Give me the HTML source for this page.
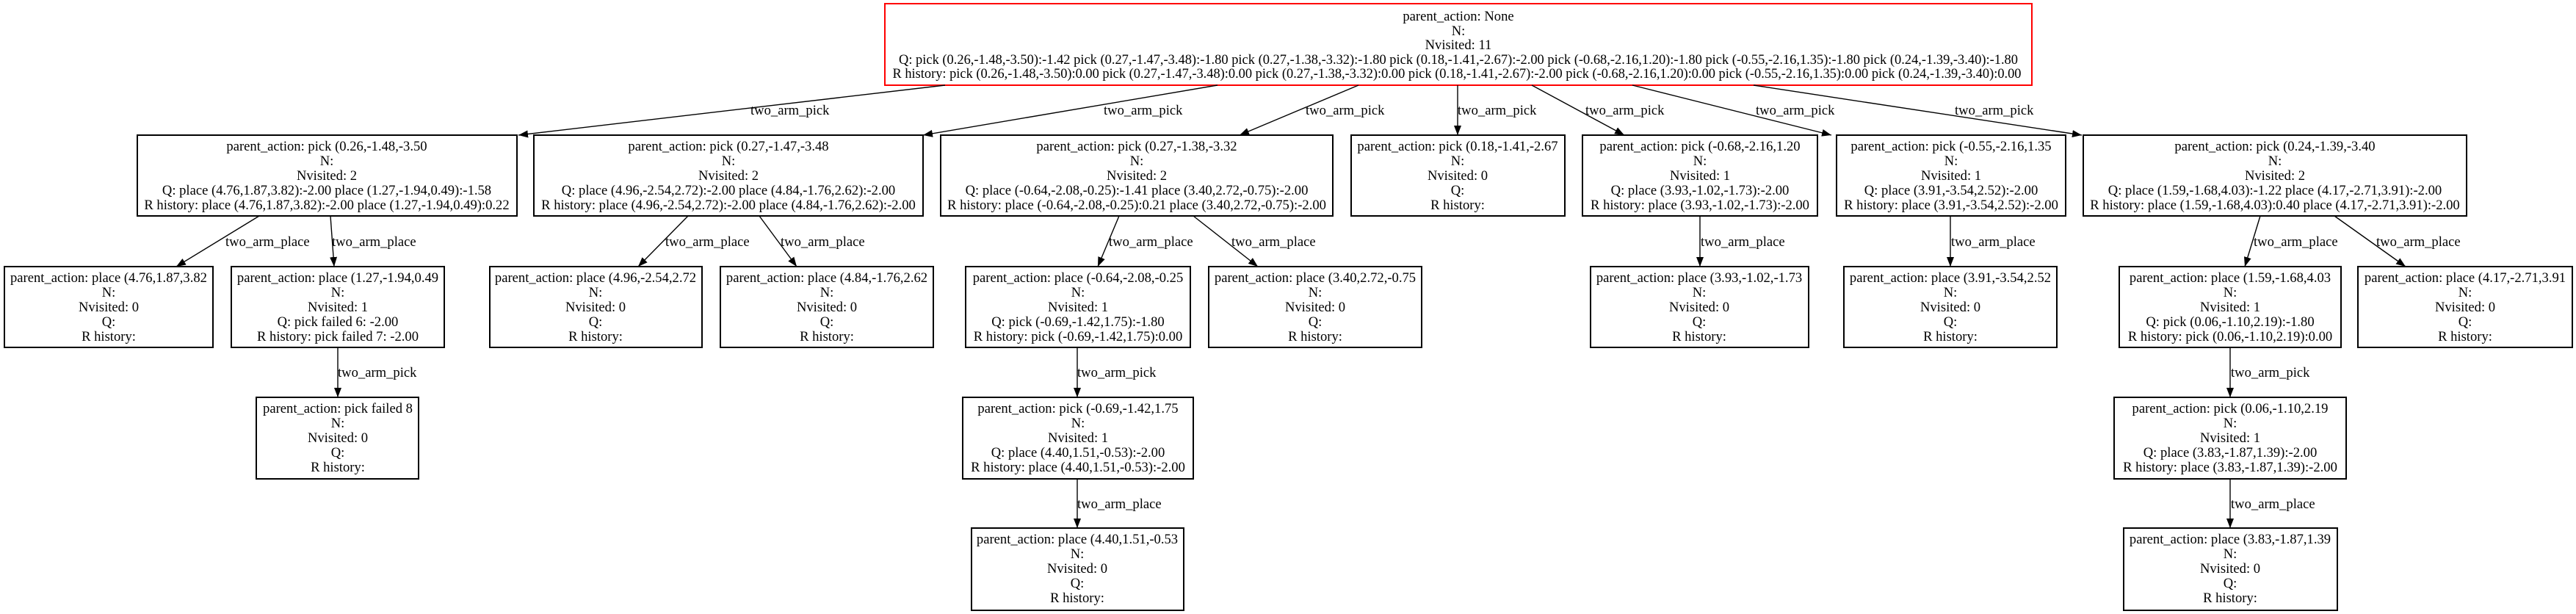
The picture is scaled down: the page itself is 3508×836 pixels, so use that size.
<!DOCTYPE html>
<html><head><meta charset="utf-8"><style>
html,body{margin:0;padding:0;background:#fff;}
svg{display:block;}
text{font-family:"Liberation Serif",serif;font-size:18.6px;fill:#000;}
.c{text-anchor:middle;}
rect{fill:#fff;stroke:#000;stroke-width:2;}
line{stroke:#000;stroke-width:1.4;}
</style></head><body>
<svg width="3508" height="836" viewBox="0 0 3508 836" xmlns="http://www.w3.org/2000/svg">
<defs><marker id="a" markerUnits="userSpaceOnUse" markerWidth="14" markerHeight="12" refX="13" refY="5" orient="auto"><path d="M0,0 L13,5 L0,10 Z" fill="#000"/></marker></defs>

<!-- root -->
<rect x="1205" y="5" width="1562" height="111" style="stroke:#f00"/>
<g class="c">
<text x="1986" y="28">parent_action: None</text>
<text x="1986" y="48">N:</text>
<text x="1986" y="67">Nvisited: 11</text>
<text x="1986" y="87" textLength="1524" lengthAdjust="spacingAndGlyphs">Q: pick (0.26,-1.48,-3.50):-1.42 pick (0.27,-1.47,-3.48):-1.80 pick (0.27,-1.38,-3.32):-1.80 pick (0.18,-1.41,-2.67):-2.00 pick (-0.68,-2.16,1.20):-1.80 pick (-0.55,-2.16,1.35):-1.80 pick (0.24,-1.39,-3.40):-1.80</text>
<text x="1984" y="106" textLength="1537" lengthAdjust="spacingAndGlyphs">R history: pick (0.26,-1.48,-3.50):0.00 pick (0.27,-1.47,-3.48):0.00 pick (0.27,-1.38,-3.32):0.00 pick (0.18,-1.41,-2.67):-2.00 pick (-0.68,-2.16,1.20):0.00 pick (-0.55,-2.16,1.35):0.00 pick (0.24,-1.39,-3.40):0.00</text>
</g>

<!-- edges root -> row1 -->
<g marker-end="url(#a)">
<line x1="1287" y1="116" x2="706" y2="184"/>
<line x1="1658" y1="116" x2="1257" y2="184"/>
<line x1="1850" y1="116" x2="1688" y2="184"/>
<line x1="1985" y1="116" x2="1985" y2="184"/>
<line x1="2086" y1="116" x2="2212" y2="184"/>
<line x1="2223" y1="116" x2="2494" y2="184"/>
<line x1="2388" y1="116" x2="2835" y2="184"/>
<!-- row1 -> row2 -->
<line x1="353" y1="294" x2="240" y2="363"/>
<line x1="450" y1="294" x2="455" y2="363"/>
<line x1="937" y1="294" x2="869" y2="363"/>
<line x1="1034" y1="294" x2="1085" y2="363"/>
<line x1="1524" y1="294" x2="1495" y2="363"/>
<line x1="1625" y1="294" x2="1713" y2="363"/>
<line x1="2315" y1="294" x2="2315" y2="363"/>
<line x1="2656" y1="294" x2="2656" y2="363"/>
<line x1="3078" y1="294" x2="3057" y2="363"/>
<line x1="3179" y1="294" x2="3276" y2="363"/>
<!-- row2 -> row3 -->
<line x1="460" y1="473" x2="460" y2="541"/>
<line x1="1467" y1="473" x2="1467" y2="541"/>
<line x1="3037" y1="473" x2="3037" y2="541"/>
<!-- row3 -> row4 -->
<line x1="1467" y1="652" x2="1467" y2="719"/>
<line x1="3037" y1="652" x2="3037" y2="719"/>
</g>

<!-- edge labels -->
<g>
<text x="1022" y="156">two_arm_pick</text>
<text x="1503" y="156">two_arm_pick</text>
<text x="1778" y="156">two_arm_pick</text>
<text x="1985" y="156">two_arm_pick</text>
<text x="2159" y="156">two_arm_pick</text>
<text x="2391" y="156">two_arm_pick</text>
<text x="2662" y="156">two_arm_pick</text>
<text x="307" y="335">two_arm_place</text>
<text x="452" y="335">two_arm_place</text>
<text x="906" y="335">two_arm_place</text>
<text x="1063" y="335">two_arm_place</text>
<text x="1510" y="335">two_arm_place</text>
<text x="1677" y="335">two_arm_place</text>
<text x="2316" y="335">two_arm_place</text>
<text x="2657" y="335">two_arm_place</text>
<text x="3069" y="335">two_arm_place</text>
<text x="3236" y="335">two_arm_place</text>
<text x="460" y="513">two_arm_pick</text>
<text x="1467" y="513">two_arm_pick</text>
<text x="3038" y="513">two_arm_pick</text>
<text x="1467" y="692">two_arm_place</text>
<text x="3038" y="692">two_arm_place</text>
</g>

<!-- row1 -->
<rect x="187" y="184" width="517" height="110"/>
<g class="c"><text x="445" y="205">parent_action: pick (0.26,-1.48,-3.50</text><text x="445" y="225">N:</text><text x="445" y="245">Nvisited: 2</text><text x="445" y="265">Q: place (4.76,1.87,3.82):-2.00 place (1.27,-1.94,0.49):-1.58</text><text x="445" y="285">R history: place (4.76,1.87,3.82):-2.00 place (1.27,-1.94,0.49):0.22</text></g>

<rect x="727" y="184" width="530" height="110"/>
<g class="c"><text x="992" y="205">parent_action: pick (0.27,-1.47,-3.48</text><text x="992" y="225">N:</text><text x="992" y="245">Nvisited: 2</text><text x="992" y="265">Q: place (4.96,-2.54,2.72):-2.00 place (4.84,-1.76,2.62):-2.00</text><text x="992" y="285">R history: place (4.96,-2.54,2.72):-2.00 place (4.84,-1.76,2.62):-2.00</text></g>

<rect x="1281" y="184" width="534" height="110"/>
<g class="c"><text x="1548" y="205">parent_action: pick (0.27,-1.38,-3.32</text><text x="1548" y="225">N:</text><text x="1548" y="245">Nvisited: 2</text><text x="1548" y="265">Q: place (-0.64,-2.08,-0.25):-1.41 place (3.40,2.72,-0.75):-2.00</text><text x="1548" y="285">R history: place (-0.64,-2.08,-0.25):0.21 place (3.40,2.72,-0.75):-2.00</text></g>

<rect x="1840" y="184" width="291" height="110"/>
<g class="c"><text x="1985" y="205">parent_action: pick (0.18,-1.41,-2.67</text><text x="1985" y="225">N:</text><text x="1985" y="245">Nvisited: 0</text><text x="1985" y="265">Q:</text><text x="1985" y="285">R history:</text></g>

<rect x="2155" y="184" width="320" height="110"/>
<g class="c"><text x="2315" y="205">parent_action: pick (-0.68,-2.16,1.20</text><text x="2315" y="225">N:</text><text x="2315" y="245">Nvisited: 1</text><text x="2315" y="265">Q: place (3.93,-1.02,-1.73):-2.00</text><text x="2315" y="285">R history: place (3.93,-1.02,-1.73):-2.00</text></g>

<rect x="2501" y="184" width="312" height="110"/>
<g class="c"><text x="2657" y="205">parent_action: pick (-0.55,-2.16,1.35</text><text x="2657" y="225">N:</text><text x="2657" y="245">Nvisited: 1</text><text x="2657" y="265">Q: place (3.91,-3.54,2.52):-2.00</text><text x="2657" y="285">R history: place (3.91,-3.54,2.52):-2.00</text></g>

<rect x="2837" y="184" width="522" height="110"/>
<g class="c"><text x="3098" y="205">parent_action: pick (0.24,-1.39,-3.40</text><text x="3098" y="225">N:</text><text x="3098" y="245">Nvisited: 2</text><text x="3098" y="265">Q: place (1.59,-1.68,4.03):-1.22 place (4.17,-2.71,3.91):-2.00</text><text x="3098" y="285">R history: place (1.59,-1.68,4.03):0.40 place (4.17,-2.71,3.91):-2.00</text></g>

<!-- row2 -->
<rect x="6" y="363" width="284" height="110"/>
<g class="c"><text x="148" y="384">parent_action: place (4.76,1.87,3.82</text><text x="148" y="404">N:</text><text x="148" y="424">Nvisited: 0</text><text x="148" y="444">Q:</text><text x="148" y="464">R history:</text></g>

<rect x="315" y="363" width="290" height="110"/>
<g class="c"><text x="460" y="384">parent_action: place (1.27,-1.94,0.49</text><text x="460" y="404">N:</text><text x="460" y="424">Nvisited: 1</text><text x="460" y="444">Q: pick failed 6: -2.00</text><text x="460" y="464">R history: pick failed 7: -2.00</text></g>

<rect x="667" y="363" width="289" height="110"/>
<g class="c"><text x="811" y="384">parent_action: place (4.96,-2.54,2.72</text><text x="811" y="404">N:</text><text x="811" y="424">Nvisited: 0</text><text x="811" y="444">Q:</text><text x="811" y="464">R history:</text></g>

<rect x="981" y="363" width="290" height="110"/>
<g class="c"><text x="1126" y="384">parent_action: place (4.84,-1.76,2.62</text><text x="1126" y="404">N:</text><text x="1126" y="424">Nvisited: 0</text><text x="1126" y="444">Q:</text><text x="1126" y="464">R history:</text></g>

<rect x="1315" y="363" width="306" height="110"/>
<g class="c"><text x="1468" y="384">parent_action: place (-0.64,-2.08,-0.25</text><text x="1468" y="404">N:</text><text x="1468" y="424">Nvisited: 1</text><text x="1468" y="444">Q: pick (-0.69,-1.42,1.75):-1.80</text><text x="1468" y="464">R history: pick (-0.69,-1.42,1.75):0.00</text></g>

<rect x="1646" y="363" width="290" height="110"/>
<g class="c"><text x="1791" y="384">parent_action: place (3.40,2.72,-0.75</text><text x="1791" y="404">N:</text><text x="1791" y="424">Nvisited: 0</text><text x="1791" y="444">Q:</text><text x="1791" y="464">R history:</text></g>

<rect x="2166" y="363" width="297" height="110"/>
<g class="c"><text x="2314" y="384">parent_action: place (3.93,-1.02,-1.73</text><text x="2314" y="404">N:</text><text x="2314" y="424">Nvisited: 0</text><text x="2314" y="444">Q:</text><text x="2314" y="464">R history:</text></g>

<rect x="2511" y="363" width="290" height="110"/>
<g class="c"><text x="2656" y="384">parent_action: place (3.91,-3.54,2.52</text><text x="2656" y="404">N:</text><text x="2656" y="424">Nvisited: 0</text><text x="2656" y="444">Q:</text><text x="2656" y="464">R history:</text></g>

<rect x="2886" y="363" width="302" height="110"/>
<g class="c"><text x="3037" y="384">parent_action: place (1.59,-1.68,4.03</text><text x="3037" y="404">N:</text><text x="3037" y="424">Nvisited: 1</text><text x="3037" y="444">Q: pick (0.06,-1.10,2.19):-1.80</text><text x="3037" y="464">R history: pick (0.06,-1.10,2.19):0.00</text></g>

<rect x="3211" y="363" width="292" height="110"/>
<g class="c"><text x="3357" y="384">parent_action: place (4.17,-2.71,3.91</text><text x="3357" y="404">N:</text><text x="3357" y="424">Nvisited: 0</text><text x="3357" y="444">Q:</text><text x="3357" y="464">R history:</text></g>

<!-- row3 -->
<rect x="349" y="541" width="221" height="111"/>
<g class="c"><text x="460" y="562">parent_action: pick failed 8</text><text x="460" y="582">N:</text><text x="460" y="602">Nvisited: 0</text><text x="460" y="622">Q:</text><text x="460" y="642">R history:</text></g>

<rect x="1311" y="541" width="314" height="111"/>
<g class="c"><text x="1468" y="562">parent_action: pick (-0.69,-1.42,1.75</text><text x="1468" y="582">N:</text><text x="1468" y="602">Nvisited: 1</text><text x="1468" y="622">Q: place (4.40,1.51,-0.53):-2.00</text><text x="1468" y="642">R history: place (4.40,1.51,-0.53):-2.00</text></g>

<rect x="2879" y="541" width="316" height="111"/>
<g class="c"><text x="3037" y="562">parent_action: pick (0.06,-1.10,2.19</text><text x="3037" y="582">N:</text><text x="3037" y="602">Nvisited: 1</text><text x="3037" y="622">Q: place (3.83,-1.87,1.39):-2.00</text><text x="3037" y="642">R history: place (3.83,-1.87,1.39):-2.00</text></g>

<!-- row4 -->
<rect x="1323" y="719" width="289" height="112"/>
<g class="c"><text x="1467" y="740">parent_action: place (4.40,1.51,-0.53</text><text x="1467" y="760">N:</text><text x="1467" y="780">Nvisited: 0</text><text x="1467" y="800">Q:</text><text x="1467" y="820">R history:</text></g>

<rect x="2892" y="719" width="291" height="112"/>
<g class="c"><text x="3037" y="740">parent_action: place (3.83,-1.87,1.39</text><text x="3037" y="760">N:</text><text x="3037" y="780">Nvisited: 0</text><text x="3037" y="800">Q:</text><text x="3037" y="820">R history:</text></g>
</svg>
</body></html>
